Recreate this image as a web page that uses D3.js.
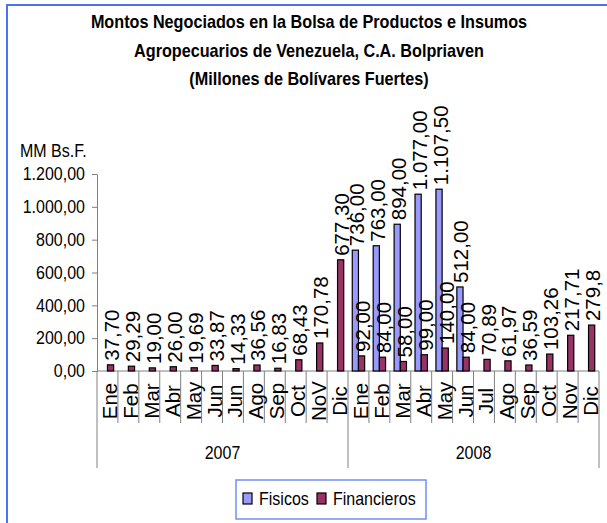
<!DOCTYPE html>
<html>
<head>
<meta charset="utf-8">
<script src="https://cdn.jsdelivr.net/npm/d3@7"></script>
<style>
  body { margin: 0; background: #fff; }
  text { font-family: "Liberation Sans", Arial, sans-serif; fill: #000; }
</style>
</head>
<body>
<div id="chart"></div>
<script>
const SVG_WIDTH = 607;
const SVG_HEIGHT = 523;
const MARGIN = { TOP: 174, RIGHT: 8, LEFT: 97, BOTTOM: 152 };
const SX = 0.89;   // texto horizontal algo comprimido

// datos
const years = ["2007", "2008"];
const months = ["Ene", "Feb", "Mar", "Abr", "May", "Jun", "Jun", "Ago", "Sep", "Oct", "NoV", "Dic",
    "Ene", "Feb", "Mar", "Abr", "May", "Jun", "Jul", "Ago", "Sep", "Oct", "Nov", "Dic"];
const fisicos = [null, null, null, null, null, null, null, null, null, null, null, null,
    736.00, 763.00, 894.00, 1077.00, 1107.50, 512.00, null, null, null, null, null, null];
const financieros = [37.70, 29.29, 19.00, 26.00, 19.69, 33.87, 14.33, 36.56, 16.83, 68.43, 170.78, 677.30,
    92.00, 84.00, 58.00, 99.00, 140.00, 84.00, 70.89, 61.97, 36.59, 103.26, 217.71, 279.8];
const yTicks = [0, 200, 400, 600, 800, 1000, 1200];
const seriesNames = ["Fisicos", "Financieros"];
const seriesColors = ["#9999ff", "#993366"];
const titleLines = ["Montos Negociados en la Bolsa de Productos e Insumos",
    "Agropecuarios de Venezuela, C.A. Bolpriaven",
    "(Millones de Bolívares Fuertes)"];

const es = d3.formatLocale({ decimal: ",", thousands: ".", grouping: [3], currency: ["", ""] });
const fmt = es.format(",.2f");
function labelText(v) {
    if (v === 279.8) return "279,8";   // asi aparece en el original
    return fmt(v);
}

function init() {
    const svg = d3.select("#chart").append("svg")
        .attr("width", SVG_WIDTH)
        .attr("height", SVG_HEIGHT);

    // borde exterior azul
    svg.append("rect")
        .attr("x", 7).attr("y", 5)
        .attr("width", 700).attr("height", 700)
        .attr("fill", "none")
        .attr("stroke", "#4a72f5")
        .attr("stroke-width", 2);

    // titulo
    svg.append("g").selectAll("text")
        .data(titleLines)
        .enter().append("text")
        .attr("transform", (d, i) => `translate(309,${28 + i * 28.6}) scale(0.9,1)`)
        .attr("text-anchor", "middle")
        .style("font-size", "18px")
        .style("font-weight", "bold")
        .text(d => d);

    const x0 = d3.scaleBand()
        .domain(d3.range(months.length))
        .range([MARGIN.LEFT, SVG_WIDTH - MARGIN.RIGHT]);

    const x1 = d3.scaleBand()
        .domain(seriesNames)
        .range([0, x0.bandwidth()])
        .paddingOuter(0.69);

    const y = d3.scaleLinear()
        .domain([0, 1200])
        .range([SVG_HEIGHT - MARGIN.BOTTOM, MARGIN.TOP]);
    const y0 = y(0);

    // eje vertical
    const axisLeft = d3.axisLeft(y)
        .tickValues(yTicks)
        .tickSize(5)
        .tickSizeOuter(0)
        .tickPadding(8.5)
        .tickFormat(es.format(",.2f"));
    const gy = svg.append("g")
        .attr("transform", `translate(${MARGIN.LEFT},0)`)
        .call(axisLeft);
    gy.select(".domain").attr("stroke", "#808080");
    gy.selectAll(".tick line").attr("stroke", "#808080");
    gy.selectAll(".tick text")
        .attr("transform", `scale(${SX},1)`)
        .style("font-size", "18px")
        .style("font-family", "'Liberation Sans', Arial, sans-serif")
        .attr("fill", "#000");

    svg.append("text")
        .attr("transform", `translate(20,157) scale(${SX},1)`)
        .style("font-size", "18px")
        .text("MM Bs.F.");

    // eje horizontal y separadores
    const gx = svg.append("g").attr("class", "xaxis");
    gx.append("line")
        .attr("x1", MARGIN.LEFT).attr("x2", SVG_WIDTH - MARGIN.RIGHT)
        .attr("y1", y0).attr("y2", y0)
        .attr("stroke", "#808080");
    gx.selectAll(".sep")
        .data(d3.range(months.length + 1))
        .enter().append("line")
        .attr("class", "sep")
        .attr("x1", i => i < months.length ? x0(i) : x0(i - 1) + x0.bandwidth())
        .attr("x2", i => i < months.length ? x0(i) : x0(i - 1) + x0.bandwidth())
        .attr("y1", y0)
        .attr("y2", i => i % 12 === 0 ? y0 + 97 : y0 + 52)
        .attr("stroke", "#808080");

    // meses rotados
    gx.selectAll(".mes")
        .data(months)
        .enter().append("text")
        .attr("class", "mes")
        .attr("transform", (d, i) => `translate(${x0(i) + x0.bandwidth() / 2 + 2},${y0 + 30}) rotate(-90)`)
        .attr("text-anchor", "middle")
        .attr("dominant-baseline", "central")
        .style("font-size", "20.5px")
        .text(d => d);

    // años
    gx.selectAll(".anio")
        .data(years)
        .enter().append("text")
        .attr("class", "anio")
        .attr("transform", (d, i) => `translate(${x0(i * 12) + x0.bandwidth() * 6},${y0 + 88}) scale(${SX},1)`)
        .attr("text-anchor", "middle")
        .style("font-size", "18px")
        .text(d => d);

    // barras
    const series = [fisicos, financieros];
    series.forEach((vals, s) => {
        const data = vals.map((v, i) => ({ i: i, v: v })).filter(d => d.v !== null);
        svg.append("g").selectAll("rect")
            .data(data)
            .enter().append("rect")
            .attr("x", d => x0(d.i) + x1(seriesNames[s]))
            .attr("y", d => y(d.v))
            .attr("width", x1.bandwidth())
            .attr("height", d => y0 - y(d.v))
            .attr("fill", seriesColors[s])
            .attr("stroke", "#000")
            .attr("stroke-width", 1.2);

        // etiquetas de valor
        svg.append("g").selectAll("text")
            .data(data)
            .enter().append("text")
            .attr("transform", d => `translate(${x0(d.i) + x1(seriesNames[s]) + x1.bandwidth() / 2 + 1},${y(d.v) - 4}) rotate(-90)`)
            .attr("dominant-baseline", "central")
            .style("font-size", "20.5px")
            .text(d => labelText(d.v));
    });

    // leyenda
    const lg = svg.append("g");
    lg.append("rect")
        .attr("x", 236).attr("y", 480)
        .attr("width", 190).attr("height", 39)
        .attr("fill", "#fff")
        .attr("stroke", "#6f8ef5")
        .attr("stroke-width", 1.5);
    const legendX = [243, 317];
    seriesNames.forEach((name, s) => {
        lg.append("rect")
            .attr("x", legendX[s]).attr("y", 493)
            .attr("width", 9).attr("height", 11)
            .attr("fill", seriesColors[s])
            .attr("stroke", "#000")
            .attr("stroke-width", 1.2);
        lg.append("text")
            .attr("transform", `translate(${legendX[s] + 16},505) scale(${SX},1)`)
            .style("font-size", "18px")
            .text(name);
    });
}

init();
</script>
</body>
</html>
